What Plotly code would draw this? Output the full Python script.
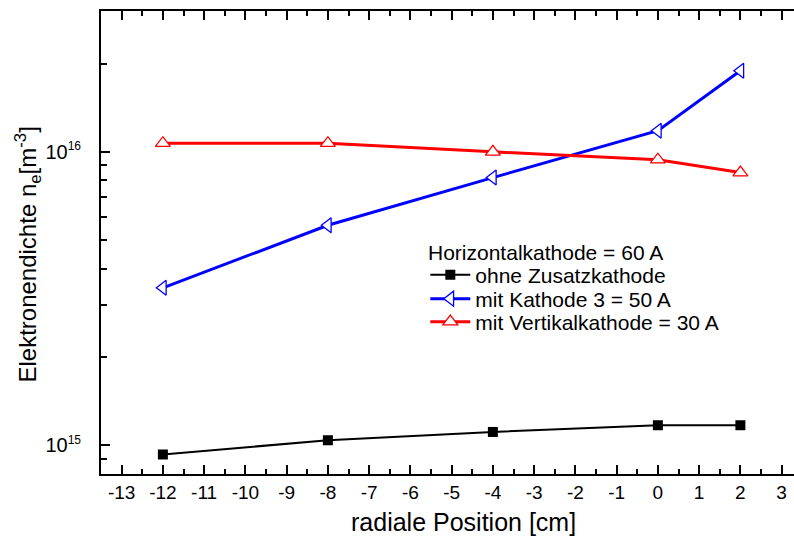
import plotly.graph_objects as go

x_pos = [-12, -8, -4, 0, 2]
ohne = [9.3e14, 1.04e15, 1.11e15, 1.17e15, 1.17e15]
kathode3 = [3.44e15, 5.62e15, 8.17e15, 1.18e16, 1.89e16]
vertikal = [1.07e16, 1.07e16, 1.0e16, 9.4e15, 8.5e15]

x_ticks = list(range(-13, 4))
x_tick_text = [str(v) for v in x_ticks]
y_major = [1e15, 1e16]
y_major_text = ["10<sup><span style='font-size:12px'>15</span></sup>",
                "10<sup><span style='font-size:12px'>16</span></sup>"]
y_minor = [8e14, 9e14] + [k * 1e15 for k in range(2, 10)] + [2e16, 3e16]
x_minor = [v + 0.5 for v in range(-14, 4)]

font_family = "Liberation Sans, Arial, sans-serif"

plot_top, plot_bottom = 11, 474


def py(ypx):
    return (plot_bottom - ypx) / (plot_bottom - plot_top)


fig = go.Figure()
fig.add_trace(go.Scatter(
    x=x_pos, y=ohne, mode="lines+markers", name="ohne Zusatzkathode",
    line=dict(color="black", width=2),
    marker=dict(symbol="square", size=10, color="black"),
    legend="legend",
))
fig.add_trace(go.Scatter(
    x=x_pos, y=kathode3, mode="lines+markers", name="mit Kathode 3 = 50 A",
    line=dict(color="#0000ff", width=3),
    marker=dict(symbol="triangle-left", size=13, color="white",
                line=dict(color="#0000ff", width=1.3)),
    legend="legend2",
))
fig.add_trace(go.Scatter(
    x=x_pos, y=vertikal, mode="lines+markers", name="mit Vertikalkathode = 30 A",
    line=dict(color="#ff0000", width=3),
    marker=dict(symbol="triangle-up", size=13, color="white",
                line=dict(color="#ff0000", width=1.3)),
    legend="legend3",
))

leg_common = dict(x=0.468, xanchor="left", yanchor="middle",
                  bgcolor="rgba(0,0,0,0)", itemwidth=40,
                  font=dict(size=21, family=font_family))

fig.update_layout(
    width=794, height=538,
    margin=dict(l=101, r=0, t=plot_top, b=538 - plot_bottom),
    paper_bgcolor="white", plot_bgcolor="white",
    font=dict(family=font_family, color="black", size=19),
    showlegend=True,
    legend=dict(y=py(275), **leg_common),
    legend2=dict(y=py(299), **leg_common),
    legend3=dict(y=py(322), **leg_common),
    xaxis=dict(
        range=[-13.5, 3.3], tickmode="array", tickvals=x_ticks, ticktext=x_tick_text,
        ticks="inside", ticklen=9, tickwidth=2, tickcolor="black",
        showline=True, linecolor="black", linewidth=2, mirror="ticks",
        showgrid=False, zeroline=False,
        tickfont=dict(size=19),
        minor=dict(tickmode="array", tickvals=x_minor, ticks="inside",
                   ticklen=5, tickwidth=1.5, tickcolor="black", showgrid=False),
    ),
    yaxis=dict(
        type="log", range=[14.902, 16.48],
        tickmode="array", tickvals=y_major, ticktext=y_major_text,
        ticks="inside", ticklen=9, tickwidth=2, tickcolor="black",
        showline=True, linecolor="black", linewidth=2, mirror=False,
        showgrid=False, zeroline=False,
        tickfont=dict(size=20), ticklabelstandoff=14,
        minor=dict(tickmode="array", tickvals=y_minor, ticks="inside",
                   ticklen=6, tickwidth=1.5, tickcolor="black", showgrid=False),
    ),
    annotations=[
        dict(text="Horizontalkathode = 60 A", xref="paper", yref="paper",
             x=(426 - 101) / 693, y=py(253), xanchor="left", yanchor="middle",
             showarrow=False, font=dict(size=21, family=font_family)),
        dict(text="radiale Position [cm]", xref="paper", yref="paper",
             x=(463 - 101) / 693, y=-0.103, xanchor="center", yanchor="middle",
             showarrow=False, font=dict(size=25, family=font_family)),
        dict(text="Elektronendichte n<sub>e</sub>[m<sup>-3</sup>]", xref="paper", yref="paper",
             x=-0.106, y=0.473, xanchor="center", yanchor="middle", textangle=-90,
             showarrow=False, font=dict(size=24, family=font_family)),
    ],
)

fig.write_html("out.html")
